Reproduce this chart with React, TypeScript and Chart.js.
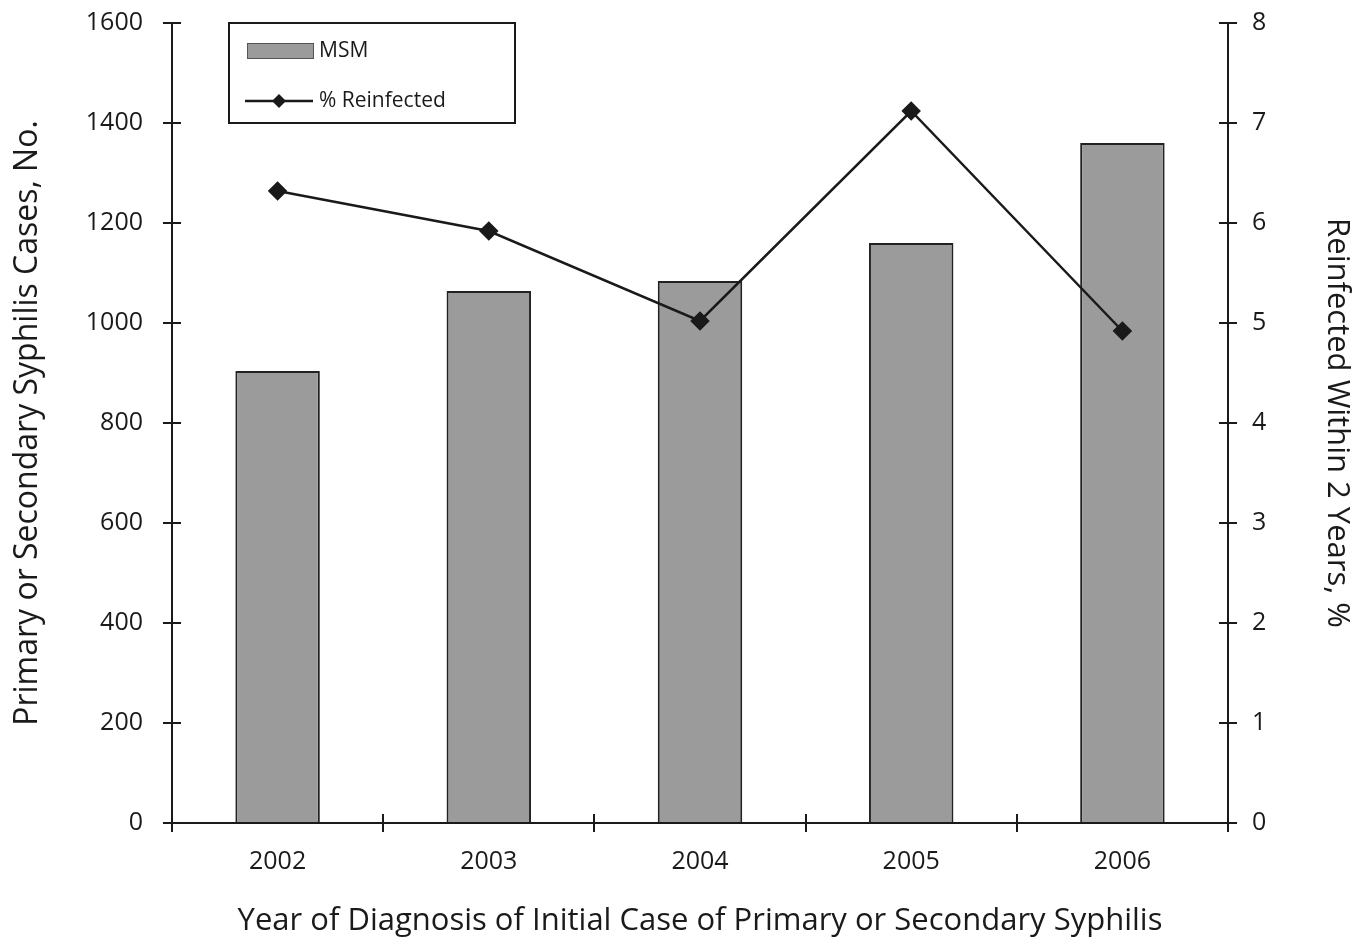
import React, { useEffect, useRef } from "react";
import { Chart, registerables } from "chart.js";

Chart.register(...registerables);

const years = ["2002", "2003", "2004", "2005", "2006"];
const msmCases = [904, 1064, 1084, 1160, 1360];
const reinfectedPct = [6.32, 5.92, 5.02, 7.12, 4.92];
const leftTickValues = [0, 200, 400, 600, 800, 1000, 1200, 1400, 1600];
const rightTickValues = [0, 1, 2, 3, 4, 5, 6, 7, 8];
const barLabel = "MSM";
const lineLabel = "% Reinfected";
const xTitle = "Year of Diagnosis of Initial Case of Primary or Secondary Syphilis";
const yLeftTitle = "Primary or Secondary Syphilis Cases, No.";
const yRightTitle = "Reinfected Within 2 Years, %";

const FONT = "'Open Sans', 'Noto Sans', sans-serif";
const INK = "#1a1a1a";
const BAR_FILL = "#9b9b9b";

const decorPlugin = {
  id: "decor",
  afterDraw(chart: any) {
    const ctx = chart.ctx;
    const { left, right, bottom } = chart.chartArea;
    const tl = 9;
    ctx.save();
    ctx.strokeStyle = INK;
    ctx.lineWidth = 2;
    // inner halves of tick marks (ticks cross the axes)
    const yl = chart.scales.y;
    yl.ticks.forEach((t: any) => {
      const p = Math.round(yl.getPixelForValue(t.value));
      ctx.beginPath();
      ctx.moveTo(left, p);
      ctx.lineTo(left + tl, p);
      ctx.stroke();
    });
    const yr = chart.scales.y1;
    yr.ticks.forEach((t: any) => {
      const p = Math.round(yr.getPixelForValue(t.value));
      ctx.beginPath();
      ctx.moveTo(right - tl, p);
      ctx.lineTo(right, p);
      ctx.stroke();
    });
    const xs = chart.scales.x;
    for (let i = 1; i < years.length; i++) {
      const p = Math.round((xs.getPixelForValue(i - 1) + xs.getPixelForValue(i)) / 2);
      ctx.beginPath();
      ctx.moveTo(p, bottom - tl);
      ctx.lineTo(p, bottom);
      ctx.stroke();
    }

    // legend box
    const lx = 229, ly = 23, lw = 286, lh = 100;
    ctx.fillStyle = "#ffffff";
    ctx.fillRect(lx, ly, lw, lh);
    ctx.lineWidth = 2;
    ctx.strokeStyle = INK;
    ctx.strokeRect(lx, ly, lw, lh);
    // bar swatch
    ctx.fillStyle = BAR_FILL;
    ctx.fillRect(247, 43, 66, 15);
    ctx.lineWidth = 1;
    ctx.strokeStyle = "#555";
    ctx.strokeRect(247.5, 43.5, 66, 15);
    // line swatch
    ctx.lineWidth = 2.5;
    ctx.strokeStyle = INK;
    ctx.beginPath();
    ctx.moveTo(245, 101);
    ctx.lineTo(313, 101);
    ctx.stroke();
    ctx.fillStyle = INK;
    ctx.beginPath();
    ctx.moveTo(279, 94);
    ctx.lineTo(286, 101);
    ctx.lineTo(279, 108);
    ctx.lineTo(272, 101);
    ctx.closePath();
    ctx.fill();
    ctx.font = `21px ${FONT}`;
    ctx.textBaseline = "middle";
    ctx.textAlign = "left";
    ctx.fillStyle = INK;
    ctx.fillText(barLabel, 319, 51);
    ctx.fillText(lineLabel, 319, 101);
    ctx.restore();
  },
};

export default function App() {
  const ref = useRef<HTMLCanvasElement | null>(null);
  useEffect(() => {
    if (!ref.current) return;
    const chart = new Chart(ref.current, {
      type: "bar",
      data: {
        labels: years,
        datasets: [
          {
            type: "line",
            label: lineLabel,
            data: reinfectedPct,
            yAxisID: "y1",
            borderColor: INK,
            borderWidth: 2.5,
            backgroundColor: INK,
            pointStyle: "rectRot",
            pointRadius: 8,
            pointBackgroundColor: INK,
            pointBorderColor: INK,
            tension: 0,
            order: 0,
          } as any,
          {
            type: "bar",
            label: barLabel,
            data: msmCases,
            yAxisID: "y",
            backgroundColor: BAR_FILL,
            borderColor: "#222",
            borderWidth: 2,
            borderSkipped: "bottom",
            barPercentage: 0.4,
            categoryPercentage: 1,
            order: 1,
          } as any,
        ],
      },
      options: {
        animation: false,
        responsive: true,
        maintainAspectRatio: false,
        layout: { padding: { top: 23, left: 0, right: 0, bottom: 0 } },
        plugins: { legend: { display: false }, tooltip: { enabled: false } },
        scales: {
          x: {
            grid: { offset: true, drawOnChartArea: false, tickLength: 9, lineWidth: 2, color: INK },
            border: { display: true, color: INK, width: 2 },
            ticks: { font: { family: FONT, size: 25 }, color: INK, padding: 15 },
            title: {
              display: true,
              text: xTitle,
              font: { family: FONT, size: 31 },
              color: INK,
              padding: { top: 0, bottom: 3 },
            },
            afterFit: (s: any) => { s.height = 120; },
          },
          y: {
            position: "left",
            min: 0,
            max: 1600,
            afterBuildTicks: (s: any) => { s.ticks = leftTickValues.map((v) => ({ value: v })); },
            ticks: {
              font: { family: FONT, size: 25 },
              color: INK,
              padding: 20,
              callback: (v: any) => String(v),
            },
            grid: { drawOnChartArea: false, tickLength: 9, lineWidth: 2, color: INK },
            border: { display: true, color: INK, width: 2 },
            title: {
              display: true,
              text: yLeftTitle,
              font: { family: FONT, size: 32 },
              color: INK,
              padding: { top: 9, bottom: 0 },
            },
            afterFit: (s: any) => { s.width = 172; s.paddingTop = 0; s.paddingBottom = 0; },
          },
          y1: {
            position: "right",
            min: 0,
            max: 8,
            afterBuildTicks: (s: any) => { s.ticks = rightTickValues.map((v) => ({ value: v })); },
            ticks: {
              font: { family: FONT, size: 25 },
              color: INK,
              padding: 15,
              callback: (v: any) => String(v),
            },
            grid: { drawOnChartArea: false, tickLength: 9, lineWidth: 2, color: INK },
            border: { display: true, color: INK, width: 2 },
            title: {
              display: true,
              text: yRightTitle,
              font: { family: FONT, size: 31 },
              color: INK,
              padding: { top: 13, bottom: 0 },
            },
            afterFit: (s: any) => { s.width = 140; s.paddingTop = 0; s.paddingBottom = 0; },
          },
        },
      },
      plugins: [decorPlugin],
    });
    return () => chart.destroy();
  }, []);
  return (
    <div style={{ position: "absolute", left: 0, top: 0, width: 1368, height: 943, background: "#fff" }}>
      <canvas ref={ref} />
    </div>
  );
}
